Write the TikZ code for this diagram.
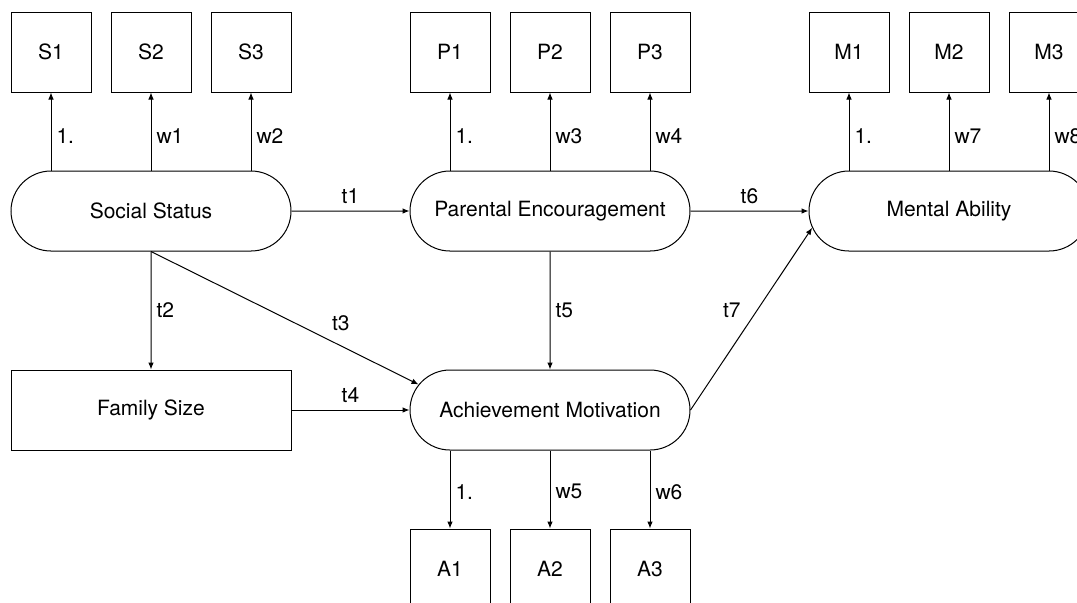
\documentclass[tikz,border=0pt]{standalone}
\usepackage{fontspec}
\setmainfont{TeX Gyre Heros}
\usetikzlibrary{arrows.meta,positioning,shapes.misc}

\begin{document}
\begin{tikzpicture}[x=0.5pt,y=-0.5pt,->,>={Latex[length=3.5pt,width=2.8pt]},
    auto,node distance=199.5pt,line width=0.5pt,
    font=\fontsize{10.5}{12}\selectfont,
    latent/.style={rounded rectangle,draw,minimum width=140pt,minimum height=40pt,inner sep=0pt},
    manifest/.style={rectangle,draw,minimum width=40pt,minimum height=40pt,inner sep=0pt},
    every edge/.append style={draw},
    edgelab/.style={inner sep=2.5pt}]

  \useasboundingbox (0,0) rectangle (1077,602);
  \clip (0,0) rectangle (1077,602);

  % latent variables
  \node[latent] (soc) at (151,211)      {Social Status};
  \node[latent] (par) [right of=soc]    {Parental Encouragement};
  \node[latent] (men) [right of=par]    {Mental Ability};
  \node[manifest,minimum width=140pt] (fam) [below of=soc,node distance=99.5pt] {Family Size};
  \node[latent] (ach) [below of=par,node distance=99.5pt] {Achievement Motivation};

  % indicators
  \node[manifest] (s2) [above of=soc,node distance=79.5pt] {S2};
  \node[manifest] (s1) [left of=s2,node distance=50pt]      {S1};
  \node[manifest] (s3) [right of=s2,node distance=50pt]     {S3};
  \node[manifest] (p2) [above of=par,node distance=79.5pt] {P2};
  \node[manifest] (p1) [left of=p2,node distance=50pt]      {P1};
  \node[manifest] (p3) [right of=p2,node distance=50pt]     {P3};
  \node[manifest] (m2) [above of=men,node distance=79.5pt] {M2};
  \node[manifest] (m1) [left of=m2,node distance=50pt]      {M1};
  \node[manifest] (m3) [right of=m2,node distance=50pt]     {M3};
  \node[manifest] (a2) [below of=ach,node distance=79.5pt] {A2};
  \node[manifest] (a1) [left of=a2,node distance=50pt]      {A1};
  \node[manifest] (a3) [right of=a2,node distance=50pt]     {A3};

  % loadings
  \path (s1 |- soc.north) edge node[edgelab,swap,pos=0.44] {1.} (s1);
  \path (s2 |- soc.north) edge node[edgelab,swap,pos=0.44] {w1} (s2);
  \path (s3 |- soc.north) edge node[edgelab,swap,pos=0.44] {w2} (s3);
  \path (p1 |- par.north) edge node[edgelab,swap,pos=0.44] {1.} (p1);
  \path (p2 |- par.north) edge node[edgelab,swap,pos=0.44] {w3} (p2);
  \path (p3 |- par.north) edge node[edgelab,swap,pos=0.44] {w4} (p3);
  \path (m1 |- men.north) edge node[edgelab,swap,pos=0.44] {1.} (m1);
  \path (m2 |- men.north) edge node[edgelab,swap,pos=0.44] {w7} (m2);
  \path (m3 |- men.north) edge node[edgelab,swap,pos=0.44] {w8} (m3);
  \path (a1 |- ach.south) edge node[edgelab,pos=0.53] {1.} (a1);
  \path (a2 |- ach.south) edge node[edgelab,pos=0.53] {w5} (a2);
  \path (a3 |- ach.south) edge node[edgelab,pos=0.53] {w6} (a3);

  % structural paths
  \path (soc) edge node {t1} (par)
        (soc) edge node[edgelab] {t2} (fam)
        (soc.south) edge node[pos=0.65] {t3} (ach.169);
  \path (fam) edge node {t4} (ach);
  \path (par) edge node {t6} (men)
        (par) edge node[edgelab] {t5} (ach);
  \path (ach.east) edge node[pos=0.47] {t7} (men.187);
\end{tikzpicture}
\end{document}
